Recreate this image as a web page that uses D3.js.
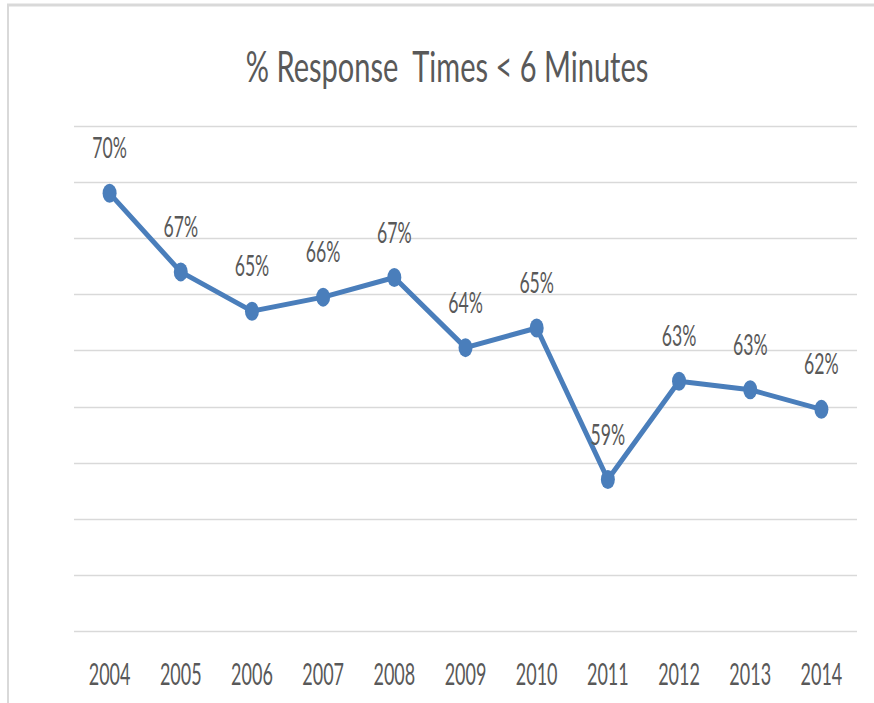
<!DOCTYPE html>
<html>
<head>
<meta charset="utf-8">
<script src="https://cdn.jsdelivr.net/npm/d3@7"></script>
<style>
  html, body { margin: 0; padding: 0; background: #fff; }
  svg { display: block; }
</style>
</head>
<body>
<svg id="chart" width="874" height="703"></svg>
<script>
const titleText = "% Response  Times < 6 Minutes";
const years = ["2004","2005","2006","2007","2008","2009","2010","2011","2012","2013","2014"];
const values = [0.696, 0.668, 0.654, 0.659, 0.666, 0.641, 0.648, 0.594, 0.629, 0.626, 0.619];
const yTicks = [0.54, 0.56, 0.58, 0.60, 0.62, 0.64, 0.66, 0.68, 0.70, 0.72];

const svg = d3.select("#chart");
const W = 874, H = 703;
const FONT = "Lato, 'Liberation Sans', sans-serif";
const textColor = "#595959";
const lineColor = "#4a7ebb";

svg.append("rect").attr("width", W).attr("height", H).attr("fill", "#fff");

// outer frame (top and left edges visible)
svg.append("line").attr("x1", 7).attr("x2", W).attr("y1", 5).attr("y2", 5)
  .attr("stroke", "#d9d9d9").attr("stroke-width", 3);
svg.append("line").attr("x1", 8).attr("x2", 8).attr("y1", 4).attr("y2", H)
  .attr("stroke", "#d9d9d9").attr("stroke-width", 2);

const x = d3.scaleBand().domain(years).range([74, 857]).padding(0);
const y = d3.scaleLinear().domain([0.54, 0.72]).range([631, 126]);

// gridlines
svg.append("g").selectAll("line").data(yTicks).join("line")
  .attr("x1", 74).attr("x2", 857)
  .attr("y1", d => Math.round(y(d)) + 0.5).attr("y2", d => Math.round(y(d)) + 0.5)
  .attr("stroke", "#d9d9d9").attr("stroke-width", 1.5);

// helper for horizontally condensed text
function condensedText(parent, tx, ty, str, size, sx) {
  const g = parent.append("g").attr("transform", `translate(${tx},${ty}) scale(${sx},1)`);
  g.append("text")
    .attr("text-anchor", "middle")
    .attr("font-family", FONT)
    .attr("font-size", size)
    .attr("fill", textColor)
    .attr("xml:space", "preserve")
    .style("white-space", "pre")
    .text(str);
  return g;
}

// title
condensedText(svg, 447, 82, titleText, 43, 0.675);

// x axis labels
const xAxis = d3.axisBottom(x).tickSize(0).tickPadding(0);
const xg = svg.append("g").attr("transform", "translate(0,685)").call(xAxis);
xg.select(".domain").remove();
xg.selectAll(".tick text").remove();
xg.selectAll(".tick").each(function(d) {
  condensedText(d3.select(this), 0, 0, d, 30, 0.6);
});

// line
const line = d3.line()
  .x((d, i) => x(years[i]) + x.bandwidth() / 2)
  .y(d => y(d));
svg.append("path").datum(values)
  .attr("d", line)
  .attr("fill", "none")
  .attr("stroke", lineColor)
  .attr("stroke-width", 5)
  .attr("stroke-linejoin", "round");

// markers
svg.append("g").selectAll("ellipse").data(values).join("ellipse")
  .attr("cx", (d, i) => x(years[i]) + x.bandwidth() / 2)
  .attr("cy", d => y(d))
  .attr("rx", 7).attr("ry", 9.5)
  .attr("fill", lineColor);

// data labels
const fmt = d3.format(".0%");
const lg = svg.append("g");
values.forEach((v, i) => {
  condensedText(lg, x(years[i]) + x.bandwidth() / 2, y(v) - 35, fmt(v), 28, 0.63);
});
</script>
</body>
</html>
